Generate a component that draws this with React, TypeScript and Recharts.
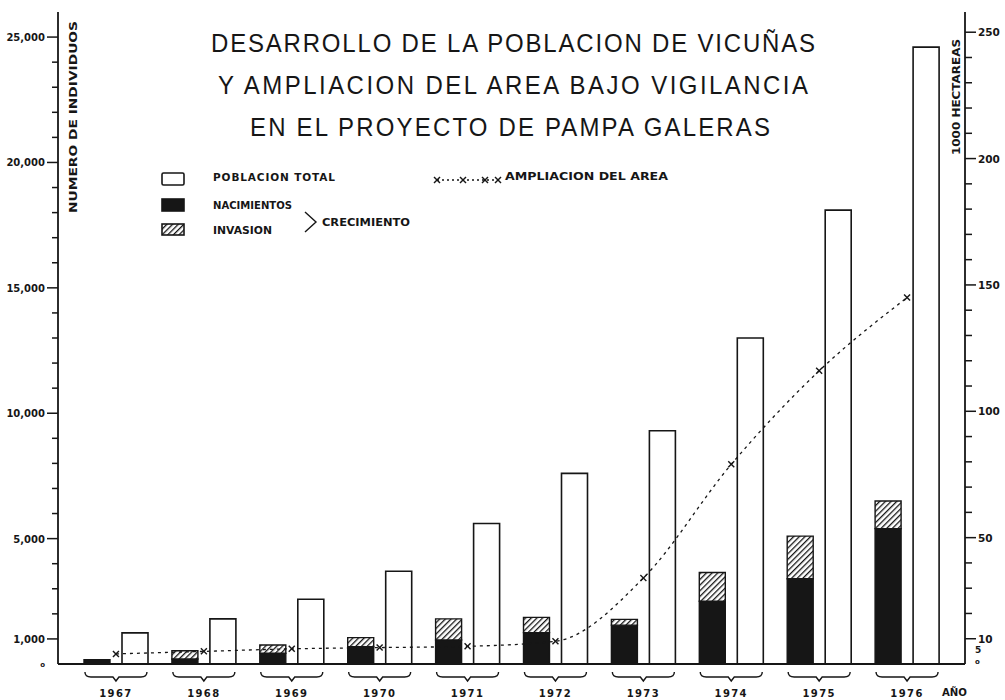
import React from "react";
import { Bar, BarChart, Line, XAxis, YAxis } from "recharts";

// values
const YEARS = ["1967", "1968", "1969", "1970", "1971", "1972", "1973", "1974", "1975", "1976"];
const POBLACION_TOTAL = [1240, 1800, 2580, 3700, 5600, 7600, 9300, 13000, 18100, 24600];
const NACIMIENTOS = [170, 200, 430, 690, 960, 1250, 1550, 2500, 3400, 5400];
const INVASION = [0, 330, 330, 360, 840, 610, 230, 1150, 1700, 1100];
const AREA_1000HA = [4, 5, 6, 6.5, 7, 9, 34, 79, 116, 145];

const LEFT_TICKS = [
  0, 1000, 2000, 3000, 4000, 5000, 6000, 7000, 8000, 9000, 10000, 11000, 12000,
  13000, 14000, 15000, 16000, 17000, 18000, 19000, 20000, 21000, 22000, 23000,
  24000, 25000,
];
const LEFT_LABELS = [0, 1000, 5000, 10000, 15000, 20000, 25000];
const RIGHT_TICKS = [
  0, 5, 10, 20, 30, 40, 50, 60, 70, 80, 90, 100, 110, 120, 130, 140, 150, 160,
  170, 180, 190, 200, 210, 220, 230, 240, 250,
];
const RIGHT_LABELS = [0, 5, 10, 50, 100, 150, 200, 250];

const INK = "#161616";
const FONT = "'DejaVu Sans', sans-serif";

const data = YEARS.map((year, i) => ({
  year,
  total: POBLACION_TOTAL[i],
  nac: NACIMIENTOS[i],
  inv: INVASION[i],
  area: AREA_1000HA[i],
}));

function LeftTick({ x, y, payload }: any) {
  const v = payload.value as number;
  const labelled = LEFT_LABELS.includes(v);
  return (
    <g>
      {v > 0 && (
        <line x1={x - (labelled ? 11 : 6)} x2={x} y1={y} y2={y} stroke={INK} strokeWidth={1.5} />
      )}
      {labelled && (
        <text
          x={x - 13}
          y={y}
          dy={v === 0 ? 3 : 4}
          textAnchor="end"
          fontFamily={FONT}
          fontWeight="bold"
          fontSize={v === 0 ? 7 : 10}
          fill={INK}
        >
          {v === 0 ? "o" : v.toLocaleString("en-US")}
        </text>
      )}
    </g>
  );
}

function RightTick({ x, y, payload }: any) {
  const v = payload.value as number;
  const labelled = RIGHT_LABELS.includes(v);
  const small = v < 10;
  return (
    <g>
      {v >= 10 && (
        <line x1={x} x2={x + (labelled ? 11 : 7)} y1={y} y2={y} stroke={INK} strokeWidth={1.5} />
      )}
      {labelled && (
        <text
          x={x + (small ? 10 : 13)}
          y={y}
          dy={small ? (v === 0 ? 0 : 2) : 4}
          textAnchor="start"
          fontFamily={FONT}
          fontWeight="bold"
          fontSize={small ? (v === 0 ? 7 : 9) : 10.5}
          fill={INK}
        >
          {v === 0 ? "o" : v}
        </text>
      )}
    </g>
  );
}

function YearTick({ x, y, payload }: any) {
  const h = 31;
  const y0 = y + 8;
  const y1 = y + 13;
  const d =
    `M${x - h},${y0} Q${x - h},${y1} ${x - h + 6},${y1} L${x - 3},${y1} L${x},${y1 + 4} ` +
    `L${x + 3},${y1} L${x + h - 6},${y1} Q${x + h},${y1} ${x + h},${y0}`;
  return (
    <g>
      <path d={d} fill="none" stroke={INK} strokeWidth={1.4} />
      <text
        x={x}
        y={y + 33}
        textAnchor="middle"
        fontFamily={FONT}
        fontWeight="bold"
        fontSize={10}
        letterSpacing={1.4}
        fill={INK}
      >
        {payload.value}
      </text>
    </g>
  );
}

function CrossDot({ cx, cy }: any) {
  if (cx == null || cy == null) return null;
  const s = 3;
  return (
    <g stroke={INK} strokeWidth={1.4}>
      <line x1={cx - s} y1={cy - s} x2={cx + s} y2={cy + s} />
      <line x1={cx - s} y1={cy + s} x2={cx + s} y2={cy - s} />
    </g>
  );
}

function Hatch({ id }: { id: string }) {
  return (
    <pattern id={id} width={4} height={4} patternUnits="userSpaceOnUse" patternTransform="rotate(45)">
      <rect width={4} height={4} fill="#fff" />
      <line x1={0} y1={0} x2={0} y2={4} stroke={INK} strokeWidth={2.6} />
    </pattern>
  );
}

function Overlay() {
  const title = { fontFamily: "'Liberation Sans', sans-serif", fontSize: 24, fill: INK } as const;
  const leg = { fontFamily: FONT, fontWeight: "bold", fontSize: 10.5, fill: INK } as const;
  return (
    <svg
      width={1005}
      height={700}
      style={{ position: "absolute", left: 0, top: 0, pointerEvents: "none" }}
    >
      <defs>
        <Hatch id="hatchLegend" />
      </defs>

      <g transform="scale(1,1.1)">
        <text x={211} y={52 / 1.1} textLength={604} lengthAdjust="spacing" {...title}>
          DESARROLLO DE LA POBLACION DE VICUÑAS
        </text>
        <text x={218} y={94 / 1.1} textLength={590} lengthAdjust="spacing" {...title}>
          Y AMPLIACION DEL AREA BAJO VIGILANCIA
        </text>
        <text x={250} y={136 / 1.1} textLength={520} lengthAdjust="spacing" {...title}>
          EN EL PROYECTO DE PAMPA GALERAS
        </text>
      </g>

      <text
        transform="translate(77,117) rotate(-90)"
        textAnchor="middle"
        textLength={192}
        lengthAdjust="spacingAndGlyphs"
        {...leg}
        fontSize={10}
      >
        NUMERO DE INDIVIDUOS
      </text>
      <text
        transform="translate(960,97) rotate(-90)"
        textAnchor="middle"
        textLength={116}
        lengthAdjust="spacingAndGlyphs"
        {...leg}
        fontSize={10}
      >
        1000  HECTAREAS
      </text>

      <rect x={162} y={173} width={22} height={12} fill="#fff" stroke={INK} strokeWidth={1.6} rx={1.5} />
      <rect x={162} y={199} width={22} height={12} fill={INK} stroke={INK} strokeWidth={1.6} />
      <rect x={162} y={224} width={22} height={11} fill="url(#hatchLegend)" stroke={INK} strokeWidth={1.6} />

      <text x={213} y={181} textLength={122} lengthAdjust="spacing" {...leg}>
        POBLACION  TOTAL
      </text>
      <text x={213} y={209} textLength={79} lengthAdjust="spacingAndGlyphs" {...leg}>
        NACIMIENTOS
      </text>
      <text x={213} y={234} textLength={59} lengthAdjust="spacingAndGlyphs" {...leg}>
        INVASION
      </text>
      <path d="M305,212 L316,222 L305,232" fill="none" stroke={INK} strokeWidth={1.4} />
      <text x={322} y={226} textLength={88} lengthAdjust="spacingAndGlyphs" {...leg} fontSize={10}>
        CRECIMIENTO
      </text>

      <line x1={437} y1={180} x2={498} y2={180} stroke={INK} strokeWidth={1.3} strokeDasharray="2 3" />
      <CrossDot cx={437} cy={180} />
      <CrossDot cx={463} cy={180} />
      <CrossDot cx={485} cy={180} />
      <CrossDot cx={498} cy={180} />
      <text x={505} y={180} textLength={163} lengthAdjust="spacingAndGlyphs" {...leg} fontSize={10}>
        AMPLIACION DEL AREA
      </text>

      <text x={942} y={696} textLength={25} lengthAdjust="spacingAndGlyphs" {...leg} fontSize={10}>
        AÑO
      </text>
    </svg>
  );
}

export default function App() {
  return (
    <div style={{ position: "absolute", left: 0, top: 0, width: 1005, height: 700, background: "#fff" }}>
      <BarChart
        width={1005}
        height={700}
        data={data}
        margin={{ top: 12, right: 0, bottom: 0, left: 0 }}
        barSize={26}
        barGap={12}
      >
        <defs>
          <Hatch id="hatchBar" />
        </defs>
        <XAxis
          dataKey="year"
          height={36}
          padding={{ left: 14, right: 14 }}
          tickSize={0}
          tickMargin={0}
          tickLine={false}
          interval={0}
          axisLine={{ stroke: INK, strokeWidth: 1.8 }}
          tick={(p: any) => <YearTick {...p} />}
        />
        <YAxis
          yAxisId="left"
          orientation="left"
          width={58}
          domain={[0, 26000]}
          ticks={LEFT_TICKS}
          interval={0}
          tickSize={0}
          tickMargin={0}
          tickLine={false}
          axisLine={{ stroke: INK, strokeWidth: 1.8 }}
          tick={(p: any) => <LeftTick {...p} />}
        />
        <YAxis
          yAxisId="right"
          orientation="right"
          width={40}
          domain={[0, 258]}
          ticks={RIGHT_TICKS}
          interval={0}
          tickSize={0}
          tickMargin={0}
          tickLine={false}
          axisLine={{ stroke: INK, strokeWidth: 1.8 }}
          tick={(p: any) => <RightTick {...p} />}
        />
        <Bar yAxisId="left" dataKey="nac" stackId="crec" fill={INK} stroke={INK} strokeWidth={1.4} isAnimationActive={false} />
        <Bar yAxisId="left" dataKey="inv" stackId="crec" fill="url(#hatchBar)" stroke={INK} strokeWidth={1.4} isAnimationActive={false} />
        <Bar yAxisId="left" dataKey="total" fill="#fff" stroke={INK} strokeWidth={1.6} isAnimationActive={false} />
        <Line
          yAxisId="right"
          dataKey="area"
          type="monotone"
          stroke={INK}
          strokeWidth={1.3}
          strokeDasharray="3 4"
          dot={(p: any) => <CrossDot key={p.index} {...p} />}
          activeDot={false}
          isAnimationActive={false}
        />
      </BarChart>
      <Overlay />
    </div>
  );
}
